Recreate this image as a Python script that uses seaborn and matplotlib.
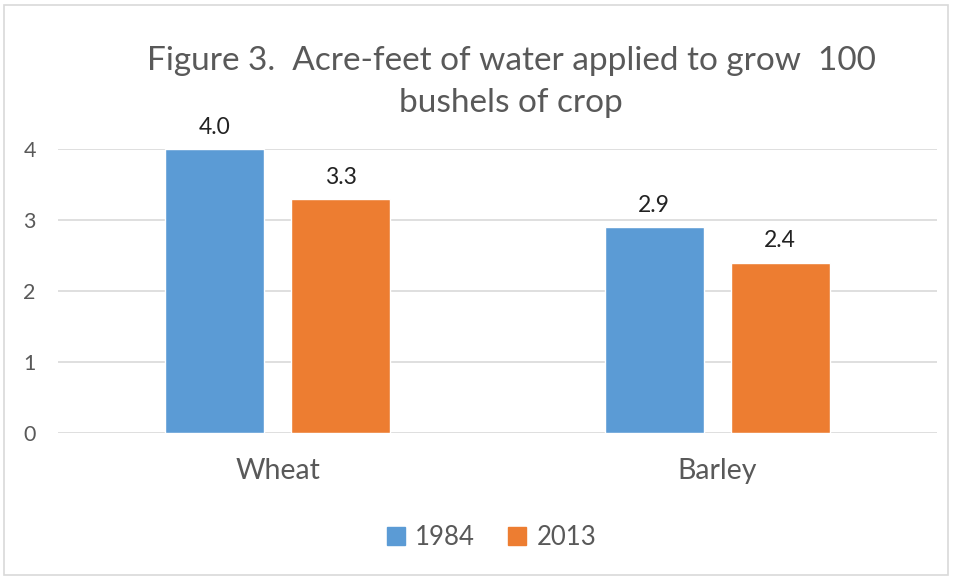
import pandas as pd
import seaborn as sns
import matplotlib.pyplot as plt
from matplotlib.patches import Rectangle

crops = ['Wheat', 'Barley']
years = ['1984', '2013']
water_1984 = [4.0, 2.9]
water_2013 = [3.3, 2.4]
labels_1984 = ['4.0', '2.9']
labels_2013 = ['3.3', '2.4']

colors = ['#5B9BD5', '#ED7D31']
text_grey = '#595959'

df = pd.DataFrame({
    'crop': crops * 2,
    'year': [years[0]] * 2 + [years[1]] * 2,
    'value': water_1984 + water_2013,
})

sns.set_theme(style='white')
plt.rcParams['font.family'] = ['Lato', 'DejaVu Sans']

fig = plt.figure(figsize=(9.54, 5.78), dpi=100)
ax = fig.add_axes([0.0608, 0.2509, 0.9212, 0.4913])

sns.barplot(data=df, x='crop', y='value', hue='year', palette=colors,
            saturation=1, width=0.573, gap=0.214, ax=ax, legend=False)

# data labels
for cont, labs in zip(ax.containers, [labels_1984, labels_2013]):
    ax.bar_label(cont, labels=labs, padding=8, fontsize=16.5, color='#222222')

ax.set_ylim(0, 4)
ax.set_xlim(-0.5, 1.5)
ax.set_yticks([0, 1, 2, 3, 4])
ax.yaxis.grid(True, color='#D9D9D9', linewidth=1.2)
ax.set_axisbelow(True)
for s in ax.spines.values():
    s.set_visible(False)
ax.set_xlabel('')
ax.set_ylabel('')
ax.tick_params(axis='y', labelsize=15.5, labelcolor=text_grey, length=0, pad=25)
ax.tick_params(axis='x', labelsize=20.5, labelcolor=text_grey, length=0, pad=18)
for t in ax.get_yticklabels():
    t.set_horizontalalignment('left')

fig.text(0.536, 0.858, 'Figure 3.  Acre-feet of water applied to grow  100\nbushels of crop',
         ha='center', va='center', fontsize=24, color=text_grey, linespacing=1.5)

# legend
handles = [Rectangle((0, 0), 1, 1, color=c) for c in colors]
fig.legend(handles, years, loc='center', bbox_to_anchor=(0.515, 0.07), ncol=2,
           frameon=False, fontsize=18.5, labelcolor=text_grey, handlelength=0.7,
           handleheight=0.7, handletextpad=0.4, columnspacing=1.3)

fig.patches.append(Rectangle((0.004, 0.006), 0.99, 0.985, transform=fig.transFigure,
                             fill=False, edgecolor='#D9D9D9', linewidth=1.2))

fig.savefig('out.png', dpi=100)
